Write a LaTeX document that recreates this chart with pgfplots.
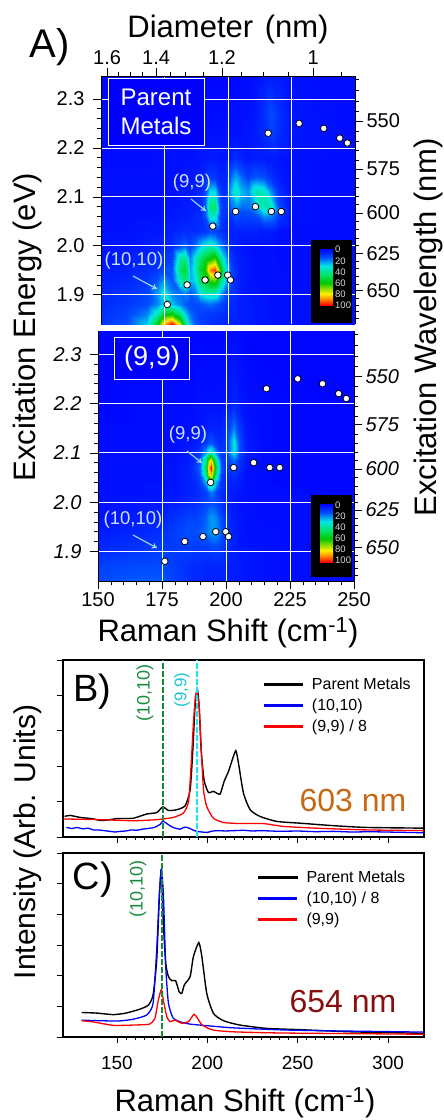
\documentclass[border=0pt]{standalone}
\usepackage{fontspec}
\usepackage{pgfplots}
\pgfplotsset{compat=1.18}
\usetikzlibrary{arrows.meta}
\setmainfont{Liberation Sans}
\newcommand{\fs}[1]{\fontsize{#1}{#1}\selectfont}
\definecolor{bgblue}{RGB}{0,0,250}
\definecolor{palecol}{RGB}{205,225,255}
\definecolor{arrcol}{RGB}{160,220,230}
\definecolor{dgreen}{RGB}{25,140,60}
\definecolor{dcyan}{RGB}{30,200,210}
\definecolor{lcyan}{RGB}{20,230,245}
\definecolor{orangec}{RGB}{200,104,20}
\definecolor{redc}{RGB}{135,15,15}
\pgfdeclareverticalshading{heatbar}{100bp}{rgb(0bp)=(1,0,0); rgb(25bp)=(1,0,0); rgb(30bp)=(1,0.51,0); rgb(35bp)=(1,0.94,0); rgb(40bp)=(0.51,0.86,0); rgb(45bp)=(0,0.78,0); rgb(52.5bp)=(0,0.9,0.43); rgb(60bp)=(0,0.9,0.9); rgb(67.5bp)=(0,0.31,1); rgb(75bp)=(0,0,1); rgb(100bp)=(0,0,1)}
\pgfplotsset{
  colormap={heat}{rgb255(0)=(0,0,255) rgb255(15)=(0,80,255) rgb255(30)=(0,230,230) rgb255(45)=(0,230,110) rgb255(60)=(0,200,0) rgb255(70)=(130,220,0) rgb255(80)=(255,240,0) rgb255(90)=(255,130,0) rgb255(100)=(255,0,0)},
  heatbase/.style={scale only axis, xmin=150, xmax=250, ymin=1.84, ymax=2.347},
  heatmapaxis/.style={heatbase, view={0}{90}, colormap name=heat, point meta min=0, point meta max=100,
    xtick={175,200,225}, ytick={1.9,2.0,2.1,2.2,2.3}, xticklabels={}, yticklabels={},
    tick style={draw=none}, axis line style={draw=none},
    grid=major, grid style={white, line width=0.8pt}, axis on top},
  overlayleft/.style={heatbase, axis y line*=left, axis line style={line width=0.5pt},
    ytick={1.9,2.0,2.1,2.2,2.3}, yticklabels={1.9,2.0,2.1,2.2,2.3}, minor y tick num=4,
    tick align=outside, major tick length=8pt, minor tick length=4pt, tick style={black, line width=0.6pt},
    ticklabel style={font=\fs{20}}, yticklabel style={xshift=-5pt}},
  overlayright/.style={heatbase, axis y line*=right, axis x line=none, axis line style={line width=0.5pt},
    ytick={1.908,1.984,2.067,2.157,2.255}, yticklabels={650,625,600,575,550},
    minor ytick={1.851,1.865,1.879,1.893,1.922,1.938,1.953,1.968,2.0,2.016,2.033,2.05,2.084,2.102,2.12,2.138,2.175,2.195,2.214,2.234,2.275,2.296,2.318,2.34},
    tick align=outside, major tick length=8pt, minor tick length=4pt, tick style={black, line width=0.6pt},
    ticklabel style={font=\fs{20}}},
  specaxis/.style={scale only axis, width=361.5pt, xmin=120, xmax=320, axis line style={line width=1.8pt},
    xtick={150,200,250,300}, minor x tick num=9, tick align=outside, xtick pos=bottom, ytick pos=left,
    major tick length=6pt, minor tick length=3pt, tick style={black, line width=0.7pt},
    yticklabels={}, legend cell align=left,
    legend image code/.code={\fill[##1] (0pt,-0.75pt) rectangle (38pt,0.75pt); \path (45pt,0pt);},
    legend style={draw=none, fill=none, font=\fs{16}, row sep=4pt, inner sep=0pt}},
  speclabelline/.style={smooth, tension=0.35},
}
\begin{document}
\begin{tikzpicture}
\useasboundingbox (0,-1120pt) rectangle (444pt,0);
% ---- Panel A top
\begin{axis}[heatmapaxis, at={(101pt,-76pt)}, anchor=north west, width=254pt, height=248pt]
\addplot3[surf, shader=interp, mesh/cols=26] table[row sep=\\, x index=0, y index=1, z index=2] {
150 1.84 10\\160 1.84 14\\168 1.84 28\\172 1.84 55\\175 1.84 85\\178 1.84 100\\181 1.84 75\\183 1.84 45\\185 1.84 25\\187 1.84 16\\189 1.84 12\\191 1.84 10\\193 1.84 9\\195 1.84 8\\197 1.84 8\\199 1.84 7\\201 1.84 6\\203 1.84 6\\205 1.84 5\\208 1.84 5\\211 1.84 4\\214 1.84 4\\217 1.84 3\\220 1.84 3\\225 1.84 3\\250 1.84 2\\
150 1.86 9\\160 1.86 12\\168 1.86 20\\172 1.86 35\\175 1.86 55\\178 1.86 60\\181 1.86 45\\183 1.86 28\\185 1.86 18\\187 1.86 14\\189 1.86 12\\191 1.86 11\\193 1.86 10\\195 1.86 10\\197 1.86 9\\199 1.86 8\\201 1.86 7\\203 1.86 6\\205 1.86 5\\208 1.86 5\\211 1.86 4\\214 1.86 4\\217 1.86 3\\220 1.86 3\\225 1.86 3\\250 1.86 2\\
150 1.88 8\\160 1.88 10\\168 1.88 14\\172 1.88 20\\175 1.88 28\\178 1.88 26\\181 1.88 20\\183 1.88 16\\185 1.88 14\\187 1.88 14\\189 1.88 15\\191 1.88 17\\193 1.88 18\\195 1.88 16\\197 1.88 14\\199 1.88 10\\201 1.88 8\\203 1.88 6\\205 1.88 5\\208 1.88 5\\211 1.88 4\\214 1.88 4\\217 1.88 3\\220 1.88 3\\225 1.88 3\\250 1.88 2\\
150 1.905 7\\160 1.905 9\\168 1.905 12\\172 1.905 22\\175 1.905 32\\178 1.905 20\\181 1.905 18\\183 1.905 22\\185 1.905 16\\187 1.905 20\\189 1.905 32\\191 1.905 38\\193 1.905 40\\195 1.905 38\\197 1.905 26\\199 1.905 16\\201 1.905 10\\203 1.905 7\\205 1.905 5\\208 1.905 4\\211 1.905 4\\214 1.905 3\\217 1.905 3\\220 1.905 3\\225 1.905 3\\250 1.905 2\\
150 1.93 6\\160 1.93 7\\168 1.93 10\\172 1.93 15\\175 1.93 22\\178 1.93 15\\181 1.93 36\\183 1.93 46\\185 1.93 25\\187 1.93 30\\189 1.93 48\\191 1.93 54\\193 1.93 66\\195 1.93 68\\197 1.93 46\\199 1.93 28\\201 1.93 12\\203 1.93 7\\205 1.93 5\\208 1.93 4\\211 1.93 3\\214 1.93 3\\217 1.93 3\\220 1.93 3\\225 1.93 2\\250 1.93 2\\
150 1.95 5\\160 1.95 6\\168 1.95 8\\172 1.95 10\\175 1.95 14\\178 1.95 16\\181 1.95 46\\183 1.95 54\\185 1.95 24\\187 1.95 34\\189 1.95 52\\191 1.95 62\\193 1.95 90\\195 1.95 96\\197 1.95 64\\199 1.95 34\\201 1.95 14\\203 1.95 7\\205 1.95 5\\208 1.95 4\\211 1.95 3\\214 1.95 3\\217 1.95 3\\220 1.95 3\\225 1.95 2\\250 1.95 2\\
150 1.975 4\\160 1.975 5\\168 1.975 7\\172 1.975 8\\175 1.975 10\\178 1.975 12\\181 1.975 38\\183 1.975 42\\185 1.975 20\\187 1.975 32\\189 1.975 46\\191 1.975 52\\193 1.975 58\\195 1.975 65\\197 1.975 42\\199 1.975 26\\201 1.975 10\\203 1.975 6\\205 1.975 5\\208 1.975 4\\211 1.975 3\\214 1.975 3\\217 1.975 3\\220 1.975 2\\225 1.975 2\\250 1.975 2\\
150 2.0 3\\160 2.0 4\\168 2.0 5\\172 2.0 6\\175 2.0 7\\178 2.0 8\\181 2.0 13\\183 2.0 18\\185 2.0 12\\187 2.0 18\\189 2.0 26\\191 2.0 32\\193 2.0 36\\195 2.0 32\\197 2.0 22\\199 2.0 15\\201 2.0 7\\203 2.0 5\\205 2.0 4\\208 2.0 3\\211 2.0 3\\214 2.0 3\\217 2.0 3\\220 2.0 2\\225 2.0 2\\250 2.0 2\\
150 2.03 3\\160 2.03 3\\168 2.03 4\\172 2.03 4\\175 2.03 5\\178 2.03 6\\181 2.03 7\\183 2.03 8\\185 2.03 8\\187 2.03 8\\189 2.03 9\\191 2.03 10\\193 2.03 13\\195 2.03 12\\197 2.03 10\\199 2.03 7\\201 2.03 6\\203 2.03 6\\205 2.03 6\\208 2.03 6\\211 2.03 6\\214 2.03 5\\217 2.03 5\\220 2.03 3\\225 2.03 2\\250 2.03 2\\
150 2.06 3\\160 2.06 3\\168 2.06 3\\172 2.06 3\\175 2.06 4\\178 2.06 4\\181 2.06 5\\183 2.06 5\\185 2.06 6\\187 2.06 7\\189 2.06 8\\191 2.06 14\\193 2.06 34\\195 2.06 34\\197 2.06 12\\199 2.06 8\\201 2.06 10\\203 2.06 14\\205 2.06 12\\208 2.06 12\\211 2.06 14\\214 2.06 22\\217 2.06 20\\220 2.06 10\\225 2.06 3\\250 2.06 2\\
150 2.08 3\\160 2.08 3\\168 2.08 3\\172 2.08 3\\175 2.08 3\\178 2.08 4\\181 2.08 4\\183 2.08 5\\185 2.08 5\\187 2.08 6\\189 2.08 8\\191 2.08 16\\193 2.08 45\\195 2.08 45\\197 2.08 14\\199 2.08 9\\201 2.08 18\\203 2.08 22\\205 2.08 18\\208 2.08 18\\211 2.08 25\\214 2.08 38\\217 2.08 35\\220 2.08 14\\225 2.08 3\\250 2.08 2\\
150 2.11 3\\160 2.11 3\\168 2.11 3\\172 2.11 3\\175 2.11 3\\178 2.11 3\\181 2.11 4\\183 2.11 4\\185 2.11 5\\187 2.11 6\\189 2.11 7\\191 2.11 12\\193 2.11 30\\195 2.11 30\\197 2.11 11\\199 2.11 8\\201 2.11 26\\203 2.11 36\\205 2.11 26\\208 2.11 22\\211 2.11 38\\214 2.11 35\\217 2.11 22\\220 2.11 9\\225 2.11 3\\250 2.11 2\\
150 2.14 3\\160 2.14 3\\168 2.14 3\\172 2.14 3\\175 2.14 3\\178 2.14 3\\181 2.14 3\\183 2.14 4\\185 2.14 4\\187 2.14 5\\189 2.14 5\\191 2.14 7\\193 2.14 11\\195 2.14 10\\197 2.14 7\\199 2.14 6\\201 2.14 18\\203 2.14 24\\205 2.14 18\\208 2.14 12\\211 2.14 16\\214 2.14 14\\217 2.14 9\\220 2.14 5\\225 2.14 3\\250 2.14 2\\
150 2.18 2\\160 2.18 2\\168 2.18 2\\172 2.18 3\\175 2.18 3\\178 2.18 3\\181 2.18 3\\183 2.18 3\\185 2.18 3\\187 2.18 3\\189 2.18 4\\191 2.18 4\\193 2.18 5\\195 2.18 5\\197 2.18 4\\199 2.18 4\\201 2.18 6\\203 2.18 8\\205 2.18 6\\208 2.18 4\\211 2.18 5\\214 2.18 5\\217 2.18 5\\220 2.18 4\\225 2.18 3\\250 2.18 2\\
150 2.23 2\\160 2.23 2\\168 2.23 2\\172 2.23 2\\175 2.23 2\\178 2.23 2\\181 2.23 2\\183 2.23 2\\185 2.23 2\\187 2.23 3\\189 2.23 3\\191 2.23 3\\193 2.23 3\\195 2.23 3\\197 2.23 3\\199 2.23 3\\201 2.23 3\\203 2.23 3\\205 2.23 3\\208 2.23 4\\211 2.23 5\\214 2.23 8\\217 2.23 12\\220 2.23 8\\225 2.23 4\\250 2.23 2\\
150 2.27 2\\160 2.27 2\\168 2.27 2\\172 2.27 2\\175 2.27 2\\178 2.27 2\\181 2.27 2\\183 2.27 2\\185 2.27 2\\187 2.27 2\\189 2.27 2\\191 2.27 2\\193 2.27 2\\195 2.27 2\\197 2.27 2\\199 2.27 2\\201 2.27 3\\203 2.27 3\\205 2.27 3\\208 2.27 3\\211 2.27 5\\214 2.27 9\\217 2.27 14\\220 2.27 9\\225 2.27 4\\250 2.27 2\\
150 2.347 1\\160 2.347 1\\168 2.347 1\\172 2.347 1\\175 2.347 1\\178 2.347 1\\181 2.347 1\\183 2.347 1\\185 2.347 1\\187 2.347 1\\189 2.347 1\\191 2.347 1\\193 2.347 1\\195 2.347 1\\197 2.347 1\\199 2.347 1\\201 2.347 1\\203 2.347 1\\205 2.347 2\\208 2.347 2\\211 2.347 3\\214 2.347 4\\217 2.347 5\\220 2.347 5\\225 2.347 3\\250 2.347 2\\
};
\end{axis}
\begin{axis}[overlayleft, at={(101pt,-76pt)}, anchor=north west, width=254pt, height=248pt,
  axis x line*=top, xtick={152.4,171.7,197.6,233.5}, xticklabels={1.6,1.4,1.2,1},
  minor xtick={156.8,161.4,166.4,177.2,183,190.2,205.4,213.9,223.7,244.7}]
\addplot[only marks, mark=*, mark size=3.3pt, mark options={fill=white, draw=black, line width=0.8pt}] coordinates {
(176.1,1.88)(183.9,1.92)(191,1.93)(196,1.94)(199.9,1.94)(201,1.93)(194,2.04)(203,2.07)(210.8,2.08)(217.1,2.07)(221,2.07)(215.8,2.23)(228,2.25)(237.7,2.24)(244,2.22)(247,2.21)};
\end{axis}
\begin{axis}[overlayright, at={(101pt,-76pt)}, anchor=north west, width=254pt, height=248pt]
\end{axis}
% ---- Panel A lower
\begin{axis}[heatmapaxis, at={(98pt,-331pt)}, anchor=north west, width=256pt, height=250pt]
\addplot3[surf, shader=interp, mesh/cols=21] table[row sep=\\, x index=0, y index=1, z index=2] {
150 1.84 14\\165 1.84 16\\175 1.84 16\\180 1.84 12\\185 1.84 9\\188 1.84 7\\190 1.84 7\\192 1.84 6\\193 1.84 6\\194 1.84 6\\195 1.84 6\\196 1.84 6\\198 1.84 6\\200 1.84 6\\202 1.84 5\\203 1.84 5\\205 1.84 5\\208 1.84 4\\215 1.84 3\\230 1.84 2\\250 1.84 2\\
150 1.87 12\\165 1.87 14\\175 1.87 14\\180 1.87 11\\185 1.87 9\\188 1.87 8\\190 1.87 8\\192 1.87 7\\193 1.87 7\\194 1.87 7\\195 1.87 7\\196 1.87 7\\198 1.87 7\\200 1.87 6\\202 1.87 5\\203 1.87 5\\205 1.87 5\\208 1.87 4\\215 1.87 3\\230 1.87 2\\250 1.87 2\\
150 1.9 8\\165 1.9 10\\175 1.9 12\\180 1.9 11\\185 1.9 11\\188 1.9 10\\190 1.9 10\\192 1.9 10\\193 1.9 10\\194 1.9 11\\195 1.9 11\\196 1.9 11\\198 1.9 10\\200 1.9 8\\202 1.9 6\\203 1.9 5\\205 1.9 4\\208 1.9 4\\215 1.9 3\\230 1.9 2\\250 1.9 2\\
150 1.94 5\\165 1.94 7\\175 1.94 9\\180 1.94 12\\185 1.94 15\\188 1.94 14\\190 1.94 16\\192 1.94 18\\193 1.94 20\\194 1.94 22\\195 1.94 23\\196 1.94 22\\198 1.94 16\\200 1.94 11\\202 1.94 7\\203 1.94 6\\205 1.94 4\\208 1.94 3\\215 1.94 3\\230 1.94 2\\250 1.94 2\\
150 1.97 3\\165 1.97 5\\175 1.97 6\\180 1.97 9\\185 1.97 12\\188 1.97 12\\190 1.97 14\\192 1.97 17\\193 1.97 20\\194 1.97 22\\195 1.97 22\\196 1.97 20\\198 1.97 14\\200 1.97 9\\202 1.97 6\\203 1.97 5\\205 1.97 4\\208 1.97 3\\215 1.97 2\\230 1.97 2\\250 1.97 2\\
150 2.0 3\\165 2.0 4\\175 2.0 4\\180 2.0 5\\185 2.0 7\\188 2.0 8\\190 2.0 10\\192 2.0 12\\193 2.0 13\\194 2.0 14\\195 2.0 14\\196 2.0 12\\198 2.0 9\\200 2.0 6\\202 2.0 5\\203 2.0 4\\205 2.0 3\\208 2.0 3\\215 2.0 2\\230 2.0 2\\250 2.0 2\\
150 2.02 3\\165 2.02 3\\175 2.02 4\\180 2.02 4\\185 2.02 6\\188 2.02 7\\190 2.02 9\\192 2.02 12\\193 2.02 16\\194 2.02 20\\195 2.02 18\\196 2.02 13\\198 2.02 8\\200 2.02 6\\202 2.02 5\\203 2.02 5\\205 2.02 4\\208 2.02 3\\215 2.02 2\\230 2.02 2\\250 2.02 1\\
150 2.04 3\\165 2.04 3\\175 2.04 3\\180 2.04 4\\185 2.04 6\\188 2.04 8\\190 2.04 12\\192 2.04 26\\193 2.04 40\\194 2.04 48\\195 2.04 38\\196 2.04 24\\198 2.04 10\\200 2.04 6\\202 2.04 6\\203 2.04 6\\205 2.04 5\\208 2.04 3\\215 2.04 2\\230 2.04 1\\250 2.04 1\\
150 2.055 3\\165 2.055 3\\175 2.055 3\\180 2.055 4\\185 2.055 6\\188 2.055 9\\190 2.055 16\\192 2.055 42\\193 2.055 70\\194 2.055 85\\195 2.055 65\\196 2.055 38\\198 2.055 12\\200 2.055 7\\202 2.055 8\\203 2.055 8\\205 2.055 6\\208 2.055 3\\215 2.055 2\\230 2.055 1\\250 2.055 1\\
150 2.07 3\\165 2.07 3\\175 2.07 3\\180 2.07 4\\185 2.07 6\\188 2.07 10\\190 2.07 19\\192 2.07 52\\193 2.07 80\\194 2.07 100\\195 2.07 78\\196 2.07 50\\198 2.07 16\\200 2.07 9\\202 2.07 12\\203 2.07 13\\205 2.07 8\\208 2.07 3\\215 2.07 2\\230 2.07 1\\250 2.07 1\\
150 2.085 3\\165 2.085 3\\175 2.085 3\\180 2.085 3\\185 2.085 5\\188 2.085 9\\190 2.085 16\\192 2.085 42\\193 2.085 66\\194 2.085 82\\195 2.085 62\\196 2.085 40\\198 2.085 13\\200 2.085 10\\202 2.085 16\\203 2.085 18\\205 2.085 10\\208 2.085 4\\215 2.085 2\\230 2.085 1\\250 2.085 1\\
150 2.1 2\\165 2.1 2\\175 2.1 3\\180 2.1 3\\185 2.1 5\\188 2.1 7\\190 2.1 11\\192 2.1 24\\193 2.1 34\\194 2.1 40\\195 2.1 32\\196 2.1 22\\198 2.1 11\\200 2.1 12\\202 2.1 24\\203 2.1 30\\205 2.1 14\\208 2.1 5\\215 2.1 2\\230 2.1 1\\250 2.1 1\\
150 2.12 2\\165 2.12 2\\175 2.12 2\\180 2.12 3\\185 2.12 4\\188 2.12 5\\190 2.12 7\\192 2.12 11\\193 2.12 14\\194 2.12 16\\195 2.12 14\\196 2.12 10\\198 2.12 8\\200 2.12 11\\202 2.12 24\\203 2.12 32\\205 2.12 15\\208 2.12 5\\215 2.12 2\\230 2.12 1\\250 2.12 1\\
150 2.15 2\\165 2.15 2\\175 2.15 2\\180 2.15 2\\185 2.15 3\\188 2.15 3\\190 2.15 4\\192 2.15 5\\193 2.15 6\\194 2.15 6\\195 2.15 6\\196 2.15 6\\198 2.15 6\\200 2.15 9\\202 2.15 16\\203 2.15 20\\205 2.15 11\\208 2.15 4\\215 2.15 2\\230 2.15 1\\250 2.15 1\\
150 2.2 1\\165 2.2 2\\175 2.2 2\\180 2.2 2\\185 2.2 2\\188 2.2 2\\190 2.2 3\\192 2.2 3\\193 2.2 3\\194 2.2 3\\195 2.2 3\\196 2.2 3\\198 2.2 3\\200 2.2 4\\202 2.2 5\\203 2.2 7\\205 2.2 5\\208 2.2 3\\215 2.2 2\\230 2.2 1\\250 2.2 1\\
150 2.347 1\\165 2.347 1\\175 2.347 1\\180 2.347 1\\185 2.347 1\\188 2.347 1\\190 2.347 1\\192 2.347 1\\193 2.347 1\\194 2.347 1\\195 2.347 1\\196 2.347 1\\198 2.347 1\\200 2.347 2\\202 2.347 2\\203 2.347 2\\205 2.347 2\\208 2.347 1\\215 2.347 1\\230 2.347 1\\250 2.347 1\\
};
\end{axis}
\begin{axis}[overlayleft, at={(98pt,-331pt)}, anchor=north west, width=256pt, height=250pt,
  axis x line*=bottom, xtick={150,175,200,225,250}, xticklabels={150,175,200,225,250}, minor x tick num=4,
  yticklabel style={font=\fs{20}\itshape}]
\addplot[only marks, mark=*, mark size=3.3pt, mark options={fill=white, draw=black, line width=0.8pt}] coordinates {
(176.1,1.88)(183.9,1.92)(191,1.93)(196,1.94)(199.9,1.94)(201,1.93)(194,2.04)(203,2.07)(210.8,2.08)(217.1,2.07)(221,2.07)(215.8,2.23)(228,2.25)(237.7,2.24)(244,2.22)(247,2.21)};
\end{axis}
\begin{axis}[overlayright, at={(98pt,-331pt)}, anchor=north west, width=256pt, height=250pt,
  yticklabel style={font=\fs{20}\itshape}]
\end{axis}
% ---- Panel B
\begin{axis}[specaxis, at={(62.7pt,-660pt)}, anchor=north west, height=177pt, ymin=0, ymax=5, ytick={0,1,2,3,4,5},
  xticklabels={}, legend style={at={(0.555,0.91)}, anchor=north west}]
\addplot[black, line width=1.4pt, speclabelline] coordinates {(121,0.58)(124,0.61)(130,0.55)(136,0.52)(140.7,0.47)(145,0.48)(150,0.52)(159,0.53)(166.5,0.65)(172,0.69)(175.4,0.85)(178.5,0.75)(183,0.77)(187.7,0.88)(190.5,1.33)(192,2.46)(193.2,3.68)(194.4,4.2)(195.5,3.68)(196.6,2.46)(198.2,1.61)(200.6,1.26)(203.4,1.29)(207,1.21)(209.3,1.57)(211.7,1.85)(213.5,2.13)(215.8,2.44)(217.4,2.04)(220,1.24)(223.7,0.77)(229.2,0.58)(238.5,0.44)(251.4,0.39)(269.8,0.32)(288,0.27)(320,0.25)};
\addlegendentry{Parent Metals}
\addplot[blue, line width=1.3pt] coordinates {(122,0.27)(125,0.24)(128,0.27)(131,0.23)(134,0.25)(137,0.2)(140,0.2)(143,0.18)(146,0.16)(149,0.14)(152,0.16)(155,0.17)(158,0.2)(161,0.19)(164,0.22)(167,0.24)(170,0.26)(172,0.3)(174,0.36)(175.4,0.46)(177,0.4)(179,0.33)(181,0.27)(183,0.24)(185,0.22)(187,0.27)(188,0.28)(190,0.25)(192,0.2)(194,0.16)(197,0.14)(200,0.13)(203,0.17)(206,0.18)(210,0.17)(215,0.18)(220,0.19)(225,0.17)(230,0.18)(240,0.16)(250,0.17)(260,0.15)(270,0.16)(280,0.14)(290,0.15)(300,0.14)(310,0.13)(320,0.12)};
\addlegendentry{(10,10)}
\addplot[red, line width=1.3pt, speclabelline] coordinates {(120.4,0.51)(140.7,0.49)(159,0.46)(172,0.49)(181,0.55)(186.8,0.68)(189.6,1.0)(191,2.0)(192.3,3.2)(193.4,3.96)(194.4,4.06)(195.5,3.68)(196.6,2.55)(197.9,1.33)(199.7,0.86)(203.4,0.53)(209,0.41)(218,0.38)(231,0.38)(242,0.3)(260,0.25)(288,0.2)(320,0.18)};
\addlegendentry{(9,9) / 8}
\addplot[dgreen, dash pattern=on 6pt off 2pt, line width=1.4pt, forget plot] coordinates {(175.4,0)(175.4,5)};
\addplot[lcyan, dash pattern=on 6pt off 2pt, line width=1.5pt, forget plot] coordinates {(194.4,0)(194.4,5)};
\end{axis}
% ---- Panel C
\begin{axis}[specaxis, at={(62.7pt,-853pt)}, anchor=north west, height=184pt, ymin=0, ymax=6, ytick={0,1,2,3,4,5,6},
  xticklabels={150,200,250,300}, ticklabel style={font=\fs{19}}, xticklabel style={yshift=-10pt},
  legend style={at={(0.54,0.915)}, anchor=north west}]
\addplot[black, line width=1.4pt, speclabelline] coordinates {(130.5,0.8)(138.8,0.78)(148,0.73)(155,0.78)(162.8,0.91)(167.4,1.04)(170,1.37)(172,2.5)(173.5,4.6)(174.6,5.45)(175.7,3.7)(177,2.4)(178.5,1.97)(180.3,1.84)(182.5,1.83)(184.4,1.48)(185.9,1.42)(187.3,1.7)(190.5,1.97)(192.3,2.62)(195.3,3.08)(197,2.62)(199.7,1.42)(203.4,0.77)(209,0.53)(218,0.39)(233,0.28)(251,0.24)(279,0.17)(320,0.12)};
\addlegendentry{Parent Metals}
\addplot[blue, line width=1.3pt, speclabelline] coordinates {(130.5,0.55)(150,0.52)(159,0.58)(166.5,0.72)(170,1.1)(172,2.84)(173.5,4.68)(174.6,5.47)(175.7,4.68)(177,2.3)(178.5,1.1)(181,0.63)(184.8,0.5)(190.5,0.42)(199.7,0.37)(214,0.3)(242,0.23)(270,0.2)(320,0.16)};
\addlegendentry{(10,10) / 8}
\addplot[red, line width=1.3pt, speclabelline] coordinates {(130.5,0.53)(137,0.49)(148,0.38)(159,0.39)(168,0.42)(171,0.61)(172.9,1.2)(174.6,1.55)(175.7,1.2)(177.6,0.66)(179.4,0.5)(182,0.55)(185.9,0.45)(189.6,0.5)(192.6,0.74)(194.4,0.63)(197.2,0.39)(203,0.23)(214,0.17)(242,0.13)(320,0.09)};
\addlegendentry{(9,9)}
\addplot[dgreen, dash pattern=on 6pt off 2pt, line width=1.4pt, forget plot] coordinates {(175,0)(175,6)};
\end{axis}
% ---- annotations, in pixel coordinates
\begin{scope}[x=1pt,y=-1pt]
\node[inner sep=0] at (50,47) {\fs{40}A)};
\node[inner sep=0] at (228,29) {\fs{31}Diameter\hspace{3pt} (nm)};
\node[inner sep=0, rotate=90] at (27,327) {\fs{31}Excitation Energy (eV)};
\node[inner sep=0, rotate=90] at (428,327.5) {\fs{31}Excitation Wavelength (nm)};
\node[inner sep=0] at (228,633) {\fs{31}Raman Shift (cm\textsuperscript{-1})};
\node[inner sep=0] at (245,1103) {\fs{31}Raman Shift (cm\textsuperscript{-1})};
\node[inner sep=0, rotate=90] at (28,842) {\fs{30}Intensity (Arb. Units)};
% boxes
\draw[white, fill=bgblue, line width=0.8pt] (108,78) rectangle (204,145);
\node[inner sep=0, white] at (156,97) {\fs{24}Parent};
\node[inner sep=0, white] at (156,126) {\fs{24}Metals};
\draw[white, fill=bgblue, line width=0.8pt] (114,337) rectangle (189,379);
\node[inner sep=0, white] at (152,359) {\fs{27}(9,9)};
% heat labels
\node[inner sep=0, palecol] at (192,183) {\fs{18.5}(9,9)};
\draw[arrcol, line width=1.1pt, -{To[length=5pt,width=6pt]}] (191,199) -- (206,211);
\node[inner sep=0, palecol] at (134,261) {\fs{18.5}(10,10)};
\draw[arrcol, line width=1.1pt, -{To[length=5pt,width=6pt]}] (133,276) -- (157,289);
\node[inner sep=0, palecol] at (188,435) {\fs{18.5}(9,9)};
\draw[arrcol, line width=1.1pt, -{To[length=5pt,width=6pt]}] (187,451) -- (202,463);
\node[inner sep=0, palecol] at (133,520) {\fs{18.5}(10,10)};
\draw[arrcol, line width=1.1pt, -{To[length=5pt,width=6pt]}] (133,535) -- (157,548);
% colour bars
\fill[black] (311,240) rectangle (352,323);
\shade[shading=heatbar] (320,249) rectangle (333,305);
\fill[black] (311,495) rectangle (352,577);
\shade[shading=heatbar] (320,504) rectangle (333,562);
\foreach \yy/\tt in {249/0,261/20,272/40,283/60,294/80,305/100}
  \node[inner sep=0, anchor=west, text=white!85!black] at (335,\yy) {\fs{9.5}\tt};
\foreach \yy/\tt in {505/0,516/20,527/40,538/60,549/80,560/100}
  \node[inner sep=0, anchor=west, text=white!85!black] at (335,\yy) {\fs{9.5}\tt};
% panel B, C
\node[inner sep=0] at (92,692) {\fs{38}B)};
\node[inner sep=0] at (93,880) {\fs{38}C)};
\node[inner sep=0, text=orangec] at (353,800) {\fs{32}603 nm};
\node[inner sep=0, text=redc] at (343,1001) {\fs{32}654 nm};
\node[inner sep=0, rotate=90, text=dgreen] at (145,693) {\fs{18}(10,10)};
\node[inner sep=0, rotate=90, text=dcyan] at (182,690) {\fs{17}(9,9)};
\node[inner sep=0, rotate=90, text=dgreen] at (138,889) {\fs{18}(10,10)};
\end{scope}
\end{tikzpicture}
\end{document}
